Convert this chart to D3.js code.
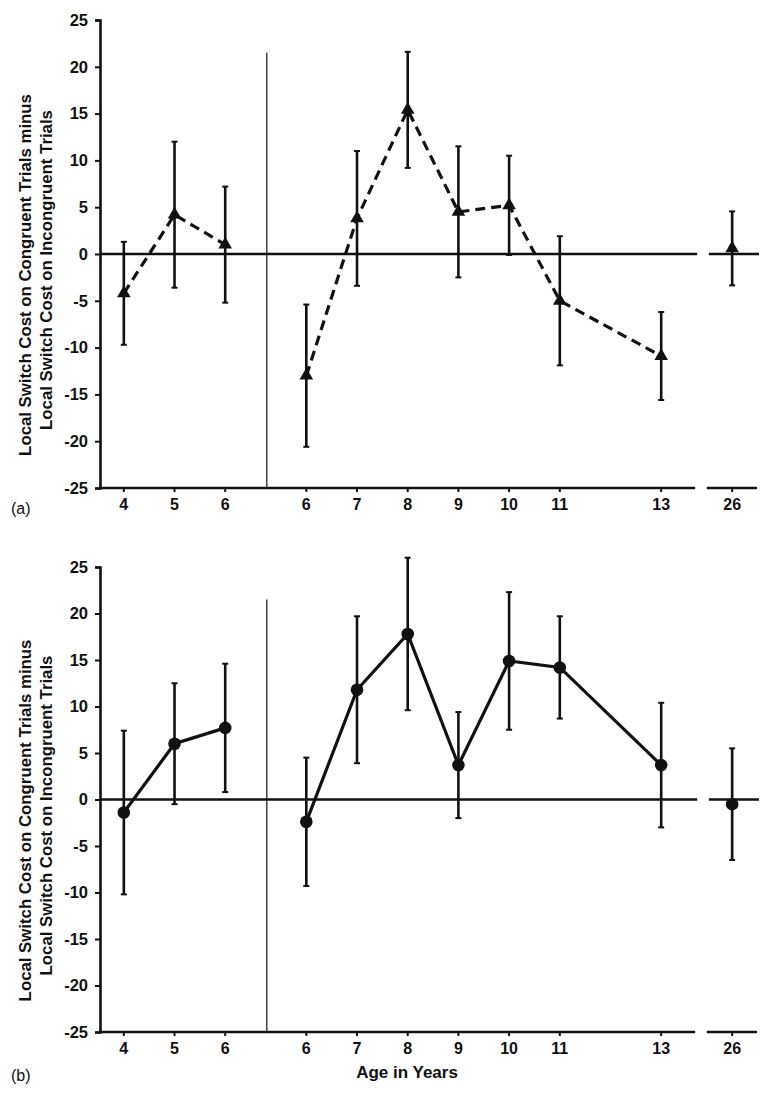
<!DOCTYPE html>
<html><head><meta charset="utf-8">
<script src="https://cdn.jsdelivr.net/npm/d3@7"></script>
<style>
body{margin:0;background:#fff;}
svg{display:block;font-family:"Liberation Sans",Arial,sans-serif;}
</style></head>
<body>
<svg id="chart" width="773" height="1093"></svg>
<script>
// ---- data ----
const ages    = [4, 5, 6, 6, 7, 8, 9, 10, 11, 13, 26];
const cohorts = ["A","A","A","B","B","B","B","B","B","B","C"];
const meanA = [-4.2, 4.2, 1.0, -13.0, 3.8, 15.4, 4.5, 5.2, -5.0, -10.9, 0.6];
const errA  = [5.5, 7.8, 6.2, 7.6, 7.2, 6.2, 7.0, 5.3, 6.9, 4.7, 3.95];
const meanB = [-1.4, 6.0, 7.7, -2.4, 11.8, 17.8, 3.7, 14.9, 14.2, 3.7, -0.5];
const errB  = [8.8, 6.5, 6.9, 6.9, 7.9, 8.2, 5.7, 7.4, 5.5, 6.7, 6.0];
const yTicks = [-25, -20, -15, -10, -5, 0, 5, 10, 15, 20, 25];
const yLabelLines = ["Local Switch Cost on Congruent Trials minus", "Local Switch Cost on Incongruent Trials"];
const xTitle = "Age in Years";
const panelLabels = ["(a)", "(b)"];

// ---- layout ----
const svg = d3.select("#chart");
const ink = "#111";
function slot(age, cohort){
  if (cohort === "A") return age - 4;
  if (cohort === "B") return age - 6 + 3.6;
  return 12;
}
const x = d3.scaleLinear().domain([-0.47, 12.49]).range([100, 757]);
const dividerSlot = 2.82, breakStart = 11.27, breakEnd = 11.5;

const panels = [
  {mean: meanA, err: errA, top: 20, bottom: 488, dashed: true,  marker: "tri", label: panelLabels[0], title: false},
  {mean: meanB, err: errB, top: 567, bottom: 1032, dashed: false, marker: "circ", label: panelLabels[1], title: true}
];

panels.forEach(p => {
  const y = d3.scaleLinear().domain([-25, 25]).range([p.bottom, p.top]);
  const g = svg.append("g");
  const pts = ages.map((a, i) => ({age: a, cohort: cohorts[i], m: p.mean[i], e: p.err[i], s: slot(a, cohorts[i])}));

  g.append("line").attr("x1", x(dividerSlot)).attr("x2", x(dividerSlot))
    .attr("y1", y(21.5)).attr("y2", y(-25))
    .attr("stroke", "#333").attr("stroke-width", 1.4);

  g.append("line").attr("x1", x(-0.47)).attr("x2", x(breakStart + 0.04))
    .attr("y1", y(0)).attr("y2", y(0)).attr("stroke", ink).attr("stroke-width", 2.6);
  g.append("line").attr("x1", x(breakEnd + 0.04)).attr("x2", x(12.53))
    .attr("y1", y(0)).attr("y2", y(0)).attr("stroke", ink).attr("stroke-width", 2.6);

  const yAxis = d3.axisLeft(y).tickValues(yTicks).tickSize(5).tickPadding(7).tickFormat(d3.format("d"));
  const ya = g.append("g").attr("transform", `translate(${x(-0.47)},0)`).call(yAxis);
  ya.select(".domain").attr("stroke", ink).attr("stroke-width", 2.6);
  ya.selectAll(".tick line").attr("stroke", ink).attr("stroke-width", 2);
  ya.selectAll("text").attr("font-size", 16.5).attr("font-weight", "bold").attr("fill", ink)
    .text(d => d < 0 ? "-" + Math.abs(d) : d);

  g.append("line").attr("x1", x(-0.47) - 1).attr("x2", x(breakStart))
    .attr("y1", y(-25)).attr("y2", y(-25)).attr("stroke", ink).attr("stroke-width", 2.6);
  g.append("line").attr("x1", x(breakEnd)).attr("x2", x(12.49))
    .attr("y1", y(-25)).attr("y2", y(-25)).attr("stroke", ink).attr("stroke-width", 2.6);
  const xt = g.selectAll(".xt").data(pts).enter().append("g")
    .attr("transform", d => `translate(${x(d.s)},${y(-25)})`);
  xt.append("line").attr("y1", 0).attr("y2", 4).attr("stroke", ink).attr("stroke-width", 2);
  xt.append("text").attr("y", 22).attr("text-anchor", "middle")
    .attr("font-size", 16).attr("font-weight", "bold").attr("fill", ink).text(d => d.age);

  const mid = (p.top + p.bottom) / 2;
  yLabelLines.forEach((t, i) => {
    g.append("text").attr("transform", `translate(${31 + i * 21},${mid + (i === 0 ? 21 : 16)}) rotate(-90)`)
      .attr("text-anchor", "middle").attr("font-size", 16.8).attr("font-weight", "bold")
      .attr("fill", ink).text(t);
  });

  g.append("text").attr("x", 11).attr("y", p.bottom + (p.title ? 49 : 26))
    .attr("font-size", 16).attr("fill", ink).text(p.label);

  const eb = g.selectAll(".eb").data(pts).enter().append("g");
  eb.append("line").attr("x1", d => x(d.s)).attr("x2", d => x(d.s))
    .attr("y1", d => y(d.m + d.e)).attr("y2", d => y(d.m - d.e))
    .attr("stroke", ink).attr("stroke-width", 2.6);
  [1, -1].forEach(sg => {
    eb.append("line").attr("x1", d => x(d.s) - 3).attr("x2", d => x(d.s) + 3)
      .attr("y1", d => y(d.m + sg * d.e)).attr("y2", d => y(d.m + sg * d.e))
      .attr("stroke", ink).attr("stroke-width", 2);
  });

  const line = d3.line().x(d => x(d.s)).y(d => y(d.m));
  ["A", "B"].forEach(c => {
    g.append("path").datum(pts.filter(d => d.cohort === c)).attr("d", line)
      .attr("fill", "none").attr("stroke", ink).attr("stroke-width", 3.2)
      .attr("stroke-dasharray", p.dashed ? "10,6" : null);
  });

  if (p.marker === "tri") {
    g.selectAll(".mk").data(pts).enter().append("path")
      .attr("d", d3.symbol(d3.symbolTriangle, 80))
      .attr("transform", d => `translate(${x(d.s)},${y(d.m)})`).attr("fill", ink);
  } else {
    g.selectAll(".mk").data(pts).enter().append("circle")
      .attr("cx", d => x(d.s)).attr("cy", d => y(d.m)).attr("r", 6.3).attr("fill", ink);
  }

  if (p.title) {
    svg.append("text").attr("x", 407).attr("y", p.bottom + 46).attr("text-anchor", "middle")
      .attr("font-size", 17).attr("font-weight", "bold").attr("fill", ink).text(xTitle);
  }
});
</script>
</body></html>
